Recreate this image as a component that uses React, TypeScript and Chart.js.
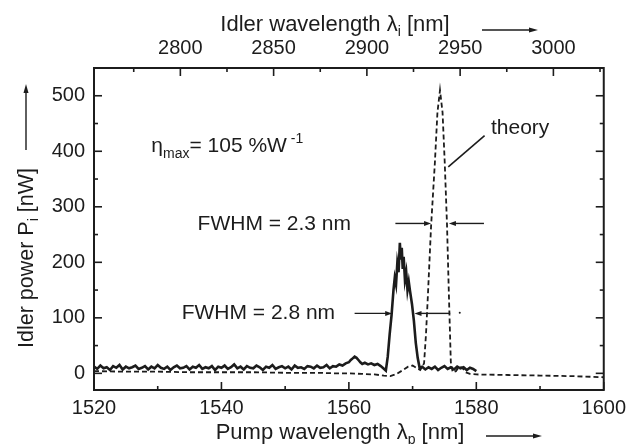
import React, { useEffect, useRef } from "react";
import { Chart, registerables } from "chart.js";

Chart.register(...registerables);

// ---------- data ----------
// measured idler power (solid line), pump wavelength in nm
const measuredLambda: number[] = [
  1520, 1520.5, 1521, 1521.5, 1522, 1522.5, 1523, 1523.5, 1524, 1524.5,
  1525, 1525.5, 1526, 1526.5, 1527, 1527.5, 1528, 1528.5, 1529, 1529.5,
  1530, 1530.5, 1531, 1531.5, 1532, 1532.5, 1533, 1533.5, 1534, 1534.5,
  1535, 1535.5, 1536, 1536.5, 1537, 1537.5, 1538, 1538.5, 1539, 1539.5,
  1540, 1540.5, 1541, 1541.5, 1542, 1542.5, 1543, 1543.5, 1544, 1544.5,
  1545, 1545.5, 1546, 1546.5, 1547, 1547.5, 1548, 1548.5, 1549, 1549.5,
  1550, 1550.5, 1551, 1551.5, 1552, 1552.5, 1553, 1553.5, 1554, 1554.5,
  1555, 1555.5, 1556, 1556.5, 1557, 1557.5, 1558, 1558.5, 1559, 1559.5,
  1560, 1560.3, 1560.6, 1560.9, 1561.2, 1561.5, 1561.8, 1562.1, 1562.5, 1563,
  1563.5, 1564, 1564.5, 1565, 1565.4, 1565.8,
  1566.1, 1566.4, 1566.7, 1567, 1567.2, 1567.4, 1567.6, 1567.8, 1568, 1568.15,
  1568.3, 1568.45, 1568.6, 1568.8, 1569, 1569.2, 1569.4, 1569.6, 1569.9, 1570.2,
  1570.5, 1570.8, 1571.1,
  1571.5, 1572, 1572.5, 1573, 1573.5, 1574, 1574.5, 1575, 1575.5, 1576,
  1576.5, 1577, 1577.5, 1578, 1578.5, 1579, 1579.5, 1580,
];
const measuredPower: number[] = [
  12, 8, 14, 9, 11, 6, 13, 10, 15, 7,
  12, 9, 11, 14, 8, 10, 13, 7, 12, 9,
  15, 10, 8, 12, 6, 11, 14, 9, 10, 13,
  7, 12, 10, 15, 8, 11, 9, 13, 6, 12,
  10, 14, 8, 11, 16, 9, 12, 7, 13, 10,
  9, 14, 11, 6, 12, 10, 15, 8, 11, 13,
  9, 12, 7, 14, 10, 11, 8, 13, 12, 9,
  14, 10, 11, 15, 9, 13, 12, 16, 14, 18,
  20, 24, 27, 30, 28, 24, 20, 17, 19, 16,
  18, 15, 17, 13, 9, 5,
  30, 70, 105, 150, 172, 160, 198, 182, 235, 205,
  226, 188, 210, 168, 182, 150, 165, 148, 125, 95,
  55, 28, 10,
  12, 7, 11, 8, 12, 6, 10, 13, 8, 11,
  7, 12, 9, 11, 6, 10, 8, 4,
];

// theory (dashed line)
const theoryLambda: number[] = [
  1520, 1525, 1530, 1535, 1540, 1545, 1550, 1555, 1558, 1560,
  1562, 1564, 1565.5, 1566.5, 1567.5, 1568.5, 1569.3, 1570, 1570.6, 1571.2,
  1571.8, 1572.1, 1572.4, 1572.9, 1573.5, 1573.9, 1574.3, 1574.7, 1575.05, 1575.4,
  1575.7, 1576, 1576.3, 1576.8, 1577.3, 1577.8, 1578.3, 1579, 1580, 1585,
  1590, 1595, 1600,
];
const theoryPower: number[] = [
  4, 3, 3, 2, 2, 2, 1, 1, 0, 0,
  -1, -2, -4, -5, -1, 6, 12, 14, 10, 6,
  18, 70, 140, 265, 380, 470, 510, 470, 378, 268,
  140, 20, 2, 4, 12, 10, 2, -1, -2, -3,
  -4, -5, -7,
];

// axes
const pumpMin = 1520;
const pumpMax = 1600;
const pumpTicks: number[] = [1520, 1540, 1560, 1580, 1600];
const pumpMinorTicks: number[] = [1530, 1550, 1570, 1590];
const idlerMin = 2753.7;
const idlerMax = 3027;
const idlerTicks: number[] = [2800, 2850, 2900, 2950, 3000];
const idlerMinorTicks: number[] = [2775, 2825, 2875, 2925, 2975, 3025];
const powerMin = -30;
const powerMax = 550;
const powerTicks: number[] = [0, 100, 200, 300, 400, 500];
const powerMinorTicks: number[] = [50, 150, 250, 350, 450];

const FONT = "'Liberation Sans', Arial, Helvetica, sans-serif";
const INK = "#1c1c1c";

type Part = { t: string; size?: number; dy?: number };

function drawRich(
  ctx: CanvasRenderingContext2D,
  x: number,
  y: number,
  parts: Part[],
  align: "left" | "center",
  base = 21
) {
  let total = 0;
  const widths = parts.map((p) => {
    ctx.font = `${p.size ?? base}px ${FONT}`;
    const w = ctx.measureText(p.t).width;
    total += w;
    return w;
  });
  let cx = align === "center" ? x - total / 2 : x;
  ctx.textAlign = "left";
  ctx.textBaseline = "alphabetic";
  parts.forEach((p, i) => {
    ctx.font = `${p.size ?? base}px ${FONT}`;
    ctx.fillText(p.t, cx, y + (p.dy ?? 0));
    cx += widths[i];
  });
}

function arrow(
  ctx: CanvasRenderingContext2D,
  x1: number,
  y1: number,
  x2: number,
  y2: number,
  head = 7,
  half = 2.5,
  lw = 1.4
) {
  const ang = Math.atan2(y2 - y1, x2 - x1);
  ctx.lineWidth = lw;
  ctx.beginPath();
  ctx.moveTo(x1, y1);
  ctx.lineTo(x2 - Math.cos(ang) * head * 0.8, y2 - Math.sin(ang) * head * 0.8);
  ctx.stroke();
  ctx.beginPath();
  ctx.moveTo(x2, y2);
  ctx.lineTo(
    x2 - Math.cos(ang) * head - Math.sin(ang) * half,
    y2 - Math.sin(ang) * head + Math.cos(ang) * half
  );
  ctx.lineTo(
    x2 - Math.cos(ang) * head + Math.sin(ang) * half,
    y2 - Math.sin(ang) * head - Math.cos(ang) * half
  );
  ctx.closePath();
  ctx.fill();
}

const decorPlugin = {
  id: "decor",
  afterDatasetsDraw(chart: any) {
    const ctx: CanvasRenderingContext2D = chart.ctx;
    const { left, right, top, bottom } = chart.chartArea;
    const xs = chart.scales.x;
    const xt = chart.scales.x2;
    const ys = chart.scales.y;
    ctx.save();
    ctx.strokeStyle = INK;
    ctx.fillStyle = INK;
    // frame
    ctx.lineWidth = 2;
    ctx.strokeRect(left, top, right - left, bottom - top);
    // inward ticks
    ctx.lineWidth = 1.6;
    const tick = (x1: number, y1: number, x2: number, y2: number) => {
      ctx.beginPath();
      ctx.moveTo(x1, y1);
      ctx.lineTo(x2, y2);
      ctx.stroke();
    };
    pumpTicks.forEach((v) => {
      const px = xs.getPixelForValue(v);
      tick(px, bottom, px, bottom - 8);
    });
    pumpMinorTicks.forEach((v) => {
      const px = xs.getPixelForValue(v);
      tick(px, bottom, px, bottom - 4);
    });
    idlerTicks.forEach((v) => {
      const px = xt.getPixelForValue(v);
      tick(px, top, px, top + 8);
    });
    idlerMinorTicks.forEach((v) => {
      const px = xt.getPixelForValue(v);
      tick(px, top, px, top + 4);
    });
    powerTicks.forEach((v) => {
      const py = ys.getPixelForValue(v);
      tick(left, py, left + 8, py);
      tick(right, py, right - 8, py);
    });
    powerMinorTicks.forEach((v) => {
      const py = ys.getPixelForValue(v);
      tick(left, py, left + 4, py);
      tick(right, py, right - 4, py);
    });

    // axis titles
    drawRich(
      ctx,
      335,
      31,
      [{ t: "Idler wavelength λ" }, { t: "i", size: 14, dy: 5 }, { t: " [nm]" }],
      "center",
      22
    );
    arrow(ctx, 482, 30, 538, 30, 9, 2.5, 1.4);
    drawRich(
      ctx,
      340,
      439,
      [{ t: "Pump wavelength λ" }, { t: "p", size: 14, dy: 5 }, { t: " [nm]" }],
      "center",
      22
    );
    arrow(ctx, 486, 436, 542, 436, 9, 2.5, 1.4);
    ctx.save();
    ctx.translate(33, 258);
    ctx.rotate(-Math.PI / 2);
    drawRich(
      ctx,
      0,
      0,
      [{ t: "Idler power P" }, { t: "i", size: 14, dy: 5 }, { t: " [nW]" }],
      "center",
      21.5
    );
    ctx.restore();
    arrow(ctx, 26, 150, 26, 84, 9, 2.5, 1.4);

    // annotations (data coordinates)
    const X = (v: number) => xs.getPixelForValue(v);
    const Y = (v: number) => ys.getPixelForValue(v);
    drawRich(
      ctx,
      X(1529),
      Y(398),
      [
        { t: "η" },
        { t: "max", size: 14, dy: 6 },
        { t: "= 105 %W" },
        { t: " -1", size: 14, dy: -9 },
      ],
      "left"
    );
    drawRich(ctx, X(1582.3), Y(432), [{ t: "theory" }], "left");
    ctx.lineWidth = 1.6;
    tick(X(1581.3), Y(428), X(1575.6), Y(372));

    drawRich(ctx, X(1548.3), Y(258), [{ t: "FWHM = 2.3 nm" }], "center");
    arrow(ctx, X(1567.3), Y(270), X(1572.9), Y(270));
    arrow(ctx, X(1581.2), Y(270), X(1575.7), Y(270));

    drawRich(ctx, X(1545.8), Y(98), [{ t: "FWHM = 2.8 nm" }], "center");
    arrow(ctx, X(1560.9), Y(108), X(1566.8), Y(108));
    arrow(ctx, X(1575.9), Y(108), X(1570.3), Y(108));
    ctx.beginPath();
    ctx.arc(X(1577.4), Y(109), 1, 0, Math.PI * 2);
    ctx.fill();

    ctx.restore();
  },
};

export default function App() {
  const ref = useRef<HTMLCanvasElement | null>(null);
  useEffect(() => {
    if (!ref.current) return;
    const measured = measuredLambda.map((x, i) => ({ x, y: measuredPower[i] }));
    const theory = theoryLambda.map((x, i) => ({ x, y: theoryPower[i] }));
    const chart = new Chart(ref.current, {
      type: "line",
      data: {
        datasets: [
          {
            label: "measured",
            data: measured,
            borderColor: INK,
            borderWidth: 2.6,
            pointRadius: 0,
            tension: 0,
            xAxisID: "x",
            yAxisID: "y",
          },
          {
            label: "theory",
            data: theory,
            borderColor: INK,
            borderWidth: 1.8,
            borderDash: [5, 3],
            pointRadius: 0,
            tension: 0,
            xAxisID: "x",
            yAxisID: "y",
          },
        ],
      },
      options: {
        responsive: false,
        animation: false,
        devicePixelRatio: 1,
        layout: { padding: { left: 0, right: 24, top: 0, bottom: 0 } },
        plugins: { legend: { display: false }, tooltip: { enabled: false } },
        scales: {
          x: {
            type: "linear",
            position: "bottom",
            min: pumpMin,
            max: pumpMax,
            grid: { display: false, drawTicks: false },
            border: { display: false },
            afterBuildTicks: (s: any) => {
              s.ticks = pumpTicks.map((v) => ({ value: v }));
            },
            afterFit: (s: any) => {
              s.height = 54;
            },
            ticks: {
              autoSkip: false,
              maxRotation: 0,
              padding: 6,
              color: INK,
              font: { family: FONT, size: 20 },
              callback: (v: any) => String(v),
            },
          },
          x2: {
            type: "linear",
            position: "top",
            min: idlerMin,
            max: idlerMax,
            grid: { display: false, drawTicks: false },
            border: { display: false },
            afterBuildTicks: (s: any) => {
              s.ticks = idlerTicks.map((v) => ({ value: v }));
            },
            afterFit: (s: any) => {
              s.height = 68;
            },
            ticks: {
              autoSkip: false,
              maxRotation: 0,
              padding: 8,
              color: INK,
              font: { family: FONT, size: 20 },
              callback: (v: any) => String(v),
            },
          },
          y: {
            type: "linear",
            position: "left",
            min: powerMin,
            max: powerMax,
            grid: { display: false, drawTicks: false },
            border: { display: false },
            afterBuildTicks: (s: any) => {
              s.ticks = powerTicks.map((v) => ({ value: v }));
            },
            afterFit: (s: any) => {
              s.width = 94;
            },
            ticks: {
              autoSkip: false,
              padding: 9,
              color: INK,
              font: { family: FONT, size: 20 },
              callback: (v: any) => String(v),
            },
          },
        },
      },
      plugins: [decorPlugin],
    } as any);
    return () => chart.destroy();
  }, []);
  return (
    <div
      style={{
        position: "fixed",
        left: 0,
        top: 0,
        width: 632,
        height: 444,
        background: "#fff",
      }}
    >
      <canvas ref={ref} width={632} height={444} style={{ display: "block" }} />
    </div>
  );
}
